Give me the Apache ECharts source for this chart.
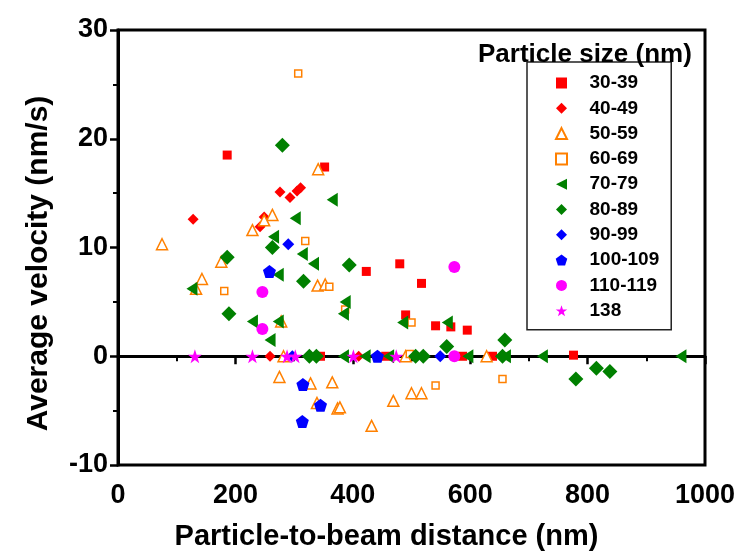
<!DOCTYPE html>
<html>
<head>
<meta charset="utf-8">
<script src="https://cdn.jsdelivr.net/npm/echarts@6/dist/echarts.min.js"></script>
<style>
html,body{margin:0;padding:0;background:#fff;}
#chart{width:742px;height:556px;}
</style>
</head>
<body>
<div id="chart"></div>
<script>
// ---- data ----
const sizeClasses = ['30-39','40-49','50-59','60-69','70-79','80-89','90-99','100-109','110-119','138'];
const xTicks = [0,200,400,600,800,1000];
const yTicks = [-10,0,10,20,30];

const s30_39 = [[186,18.5],[352,17.4],[423,7.8],[480,8.5],[517,6.7],[490,3.8],[541,2.8],[567,2.7],[595,2.4],[776,0.1],[345,0],[456,0],[587,0],[638,0]];
const s40_49 = [[128,12.6],[242,11.9],[249,12.8],[276,15.1],[293,14.6],[305,15.2],[311,15.5],[259,0],[410,0]];
const s50_59 = [[341,17.2],[263,13.0],[249,12.5],[229,11.6],[75,10.3],[176,8.7],[143,7.1],[133,6.2],[340,6.5],[353,6.6],[278,3.2],[282,0],[490,0],[628,0],[275,-1.9],[328,-2.5],[365,-2.4],[339,-4.3],[374,-4.8],[378,-4.7],[469,-4.1],[500,-3.4],[517,-3.4],[432,-6.4]];
const s60_69 = [[307,26.0],[319,10.6],[181,6.0],[360,6.4],[387,4.3],[500,3.1],[497,0.2],[541,-2.7],[655,-2.1]];
const s70_79 = [[365,14.4],[302,12.7],[265,11.0],[314,9.4],[333,8.5],[273,7.5],[126,6.2],[387,5.0],[384,3.9],[485,3.1],[561,3.1],[229,3.2],[273,3.2],[259,1.5],[384,0],[421,0],[461,0],[596,0],[660,0],[723,0],[959,0]];
const s80_89 = [[280,19.4],[263,10.0],[186,9.1],[316,6.9],[394,8.4],[189,3.9],[560,0.9],[659,1.5],[780,-2.1],[815,-1.1],[838,-1.4],[326,0],[338,0],[507,0],[520,0],[655,0]];
const s90_99 = [[290,10.3],[297,0],[549,0]];
const s100_109 = [[258,7.8],[442,0],[315,-2.6],[345,-4.5],[314,-6.0]];
const s110_119 = [[246,5.9],[246,2.5],[573,8.2],[573,0]];
const s138 = [[131,0],[229,0],[288,0],[302,0],[401,0],[474,0]];

// ---- styles ----
const RED='#FF0000', ORANGE='#FF8000', GREEN='#008000', BLUE='#0000FF', MAG='#FF00FF';
const SQUARE='path://M0,0 L10,0 L10,10 L0,10 Z';
const UTRI='path://M5,0 L10,10 L0,10 Z';
const DIAMOND='path://M0,-1 L1,0 L0,1 L-1,0 Z';
const LTRI='path://M0,5 L10,0 L10,10 Z';
const PENTA='path://M50,0 L97.6,34.5 L79.4,90.5 L20.6,90.5 L2.4,34.5 Z';
const STAR='path://M50,0 L61.8,35.1 L97.6,35.1 L68.5,56.8 L79.4,91 L50,70 L20.6,91 L31.5,56.8 L2.4,35.1 L38.2,35.1 Z';
const FONT='"Liberation Sans", Arial, sans-serif';

const seriesDefs = [
  {data:s30_39, symbol:SQUARE, size:9, style:{color:RED}},
  {data:s40_49, symbol:DIAMOND, size:11, style:{color:RED}},
  {data:s50_59, symbol:UTRI, size:[11,11], style:{color:'#fff', borderColor:ORANGE, borderWidth:1.5}},
  {data:s60_69, symbol:SQUARE, size:7, style:{color:'#fff', borderColor:ORANGE, borderWidth:1.5}},
  {data:s70_79, symbol:LTRI, size:[11,14], style:{color:GREEN}},
  {data:s80_89, symbol:DIAMOND, size:15, style:{color:GREEN}},
  {data:s90_99, symbol:DIAMOND, size:12, style:{color:BLUE}},
  {data:s100_109, symbol:PENTA, size:13, style:{color:BLUE}},
  {data:s110_119, symbol:'circle', size:12, style:{color:MAG}},
  {data:s138, symbol:STAR, size:14, style:{color:MAG}}
];

const series = seriesDefs.map((d,i)=>({
  name: sizeClasses[i],
  type:'scatter',
  data:d.data,
  symbol:d.symbol,
  symbolSize:d.size,
  itemStyle:Object.assign({opacity:1}, d.style),
  emphasis:{disabled:true},
  z: 2+i
}));

const chart = echarts.init(document.getElementById('chart'), null, {renderer:'canvas'});
chart.setOption({
  animation:false,
  backgroundColor:'#fff',
  title:{
    text:'Particle size (nm)',
    left:473, top:37,
    textStyle:{fontFamily:FONT, fontWeight:'bold', fontSize:26, color:'#000'}
  },
  legend:{
    orient:'vertical',
    left:527, top:62,
    padding:[11,12,9,28],
    itemWidth:46, itemHeight:11,
    itemGap:5.3,
    borderColor:'#222', borderWidth:1.5,
    data:sizeClasses,
    textStyle:{fontFamily:FONT, fontWeight:'bold', fontSize:19, color:'#000', lineHeight:20}
  },
  grid:{left:118, right:37, top:30, bottom:89, show:true, borderColor:'#000', borderWidth:3, backgroundColor:'transparent'},
  xAxis:{
    type:'value', min:xTicks[0], max:xTicks[xTicks.length-1], interval:200,
    name:'Particle-to-beam distance (nm)', nameLocation:'middle', nameGap:57,
    nameTextStyle:{fontFamily:FONT, fontWeight:'bold', fontSize:29, color:'#000', padding:[0,50,0,0]},
    axisLine:{lineStyle:{color:'#000', width:3}},
    axisTick:{show:true, length:8, lineStyle:{color:'#000', width:2.5}},
    minorTick:{show:true, splitNumber:2, length:5, lineStyle:{color:'#000', width:2}},
    splitLine:{show:false},
    axisLabel:{fontFamily:FONT, fontWeight:'bold', fontSize:27, color:'#000', margin:17, formatter:function(v){return String(v);}}
  },
  yAxis:{
    type:'value', min:yTicks[0], max:yTicks[yTicks.length-1], interval:10,
    name:'Average velocity (nm/s)', nameLocation:'middle', nameGap:64,
    nameTextStyle:{fontFamily:FONT, fontWeight:'bold', fontSize:30, color:'#000', padding:[0,32,0,0]},
    axisLine:{lineStyle:{color:'#000', width:3}},
    axisTick:{show:true, length:8, lineStyle:{color:'#000', width:2.5}},
    minorTick:{show:true, splitNumber:2, length:5, lineStyle:{color:'#000', width:2}},
    splitLine:{show:false},
    axisLabel:{fontFamily:FONT, fontWeight:'bold', fontSize:27, color:'#000', margin:10, formatter:function(v){return String(v);}}
  },
  series:series
});
</script>
</body>
</html>
